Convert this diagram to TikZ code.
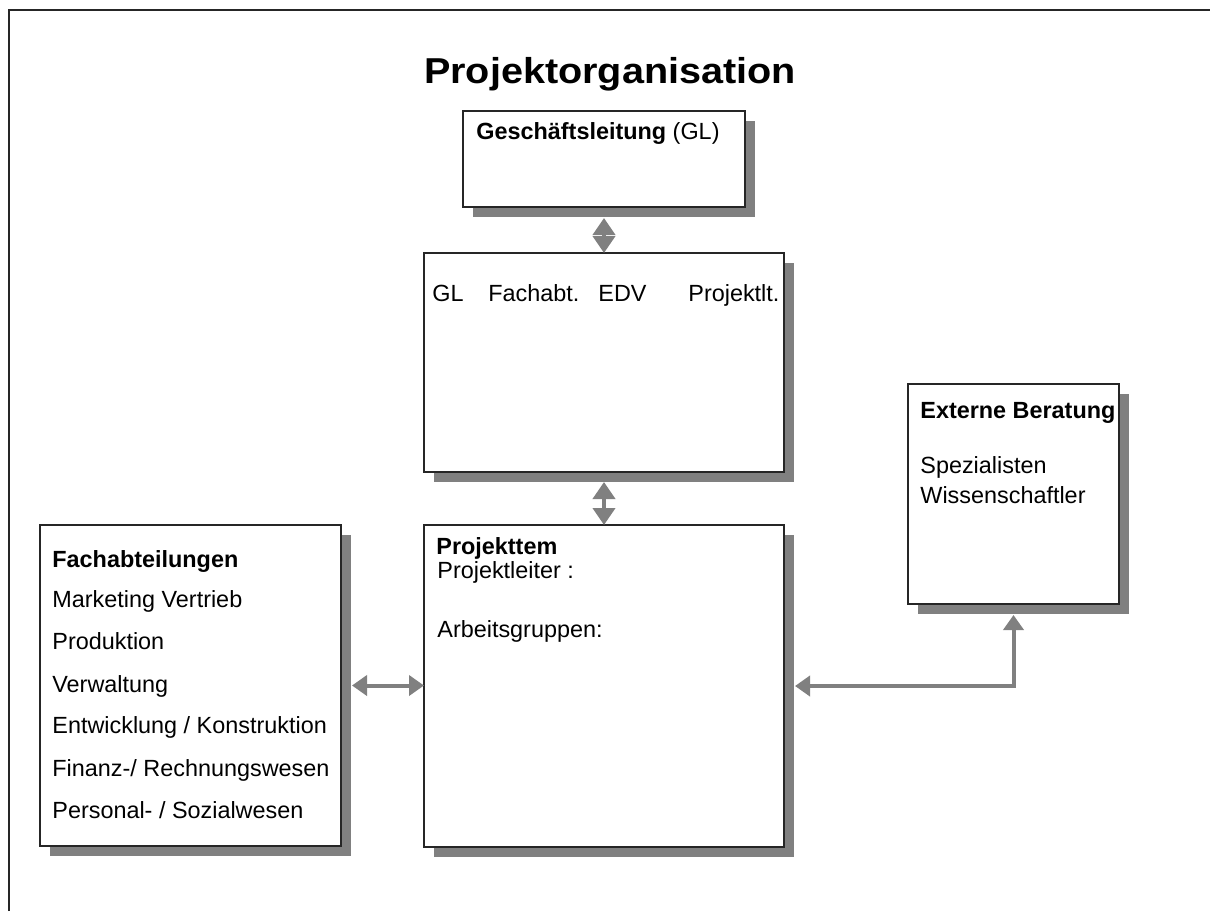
\documentclass[tikz,border=0pt]{standalone}
\usepackage{fontspec}
\setmainfont{Liberation Sans}
\usetikzlibrary{arrows.meta,shadows}
\begin{document}
\begin{tikzpicture}[x=0.5pt,y=-0.5pt,
  box/.style={draw=black!85,line width=0.75pt,fill=white,anchor=north west,inner sep=0pt,outer sep=0pt,
    drop shadow={shadow xshift=5pt,shadow yshift=-5pt,fill=gray,opacity=1}},
  txt/.style={anchor=base west,inner sep=0pt,font=\fontsize{11.7}{14}\selectfont},
  btxt/.style={anchor=base west,inner sep=0pt,font=\fontsize{11.7}{14}\selectfont\bfseries},
  conn/.style={draw=gray,line width=2pt},
  tipA/.style={{Triangle[width=11pt,length=8.5pt]}-{Triangle[width=11pt,length=8.5pt]}},
  tipB/.style={{Triangle[width=10pt,length=7.5pt]}-{Triangle[width=10pt,length=7.5pt]}}]
\useasboundingbox (0,0) rectangle (1210,911);
\fill[white] (0,0) rectangle (1210,911);
\draw[line width=1pt,black!85] (8.5,911) -- (8.5,10) -- (1210,10);

% title
\node[anchor=base,inner sep=0pt,font=\fontsize{18}{20}\selectfont\bfseries,xscale=1.1] (title) at (610,83) {Projektorganisation};

% boxes
\node[box,minimum width=141pt,minimum height=48pt] (gl) at (463,111) {};
\node[box,minimum width=180pt,minimum height=109.5pt] (mid) at (424,253) {};
\node[box,minimum width=180pt,minimum height=161pt] (pt) at (424,525) {};
\node[box,minimum width=150.5pt,minimum height=160.5pt] (fach) at (40,525) {};
\node[box,minimum width=105.5pt,minimum height=110pt] (ext) at (908,384) {};

% texts
\node[txt] (gltext) at (476,139) {\textbf{Geschäftsleitung} (GL)};
\node[txt] (m1) at (432,301) {GL};
\node[txt] (m2) at (488,301) {Fachabt.};
\node[txt] (m3) at (598,301) {EDV};
\node[txt] (m4) at (688,301) {Projektlt.};

\node[btxt] (p1) at (436,554) {Projekttem};
\node[txt] (p2) at (437,578) {Projektleiter :};
\node[txt] (p3) at (437,637) {Arbeitsgruppen:};

\node[btxt] (f0) at (52,567) {Fachabteilungen};
\node[txt] (f1) at (52,607) {Marketing Vertrieb};
\node[txt] (f2) at (52,649) {Produktion};
\node[txt] (f3) at (52,692) {Verwaltung};
\node[txt] (f4) at (52,733) {Entwicklung / Konstruktion};
\node[txt] (f5) at (52,776) {Finanz-/ Rechnungswesen};
\node[txt] (f6) at (52,818) {Personal- / Sozialwesen};

\node[btxt] (e0) at (920,418) {Externe Beratung};
\node[txt] (e1) at (920,473) {Spezialisten};
\node[txt] (e2) at (920,503) {Wissenschaftler};

% connectors
\draw[conn,tipA] ([yshift=-5.5pt]gl.south) -- (mid.north);
\draw[conn,tipA] ([yshift=-5pt]mid.south) -- (pt.north);
\draw[conn,tipB] ([xshift=5.5pt]fach.east) -- (fach.east -| pt.west);
\draw[conn,tipB] ([yshift=-5.5pt]ext.south) |- ([xshift=5.5pt]pt.east);
\end{tikzpicture}
\end{document}
